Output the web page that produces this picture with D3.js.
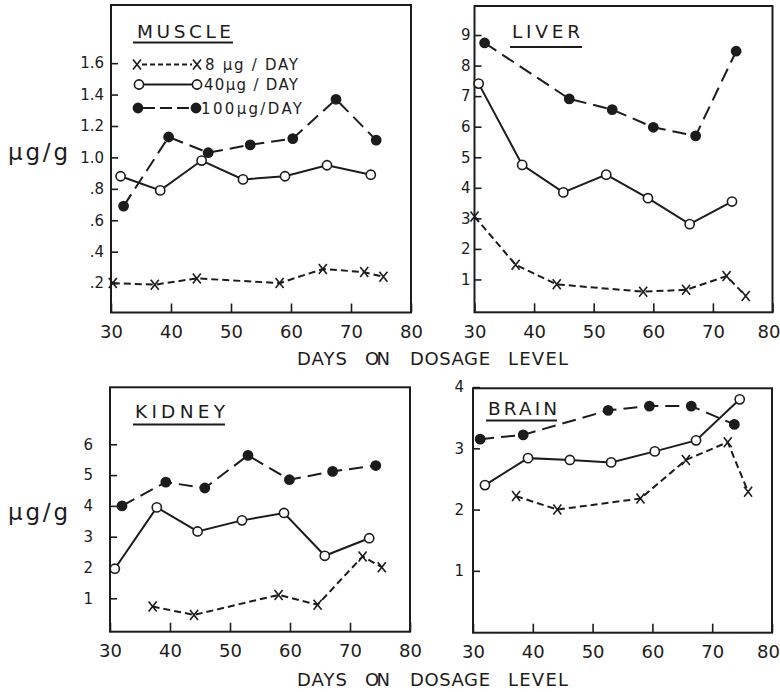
<!DOCTYPE html>
<html><head><meta charset="utf-8">
<script src="https://cdn.jsdelivr.net/npm/d3@7"></script>
<style>
body{margin:0;background:#fff}
svg{display:block}
text{font-family:"DejaVu Sans",sans-serif;fill:#1c1c1c}
</style>
</head><body><svg id="c" width="780" height="692"></svg>
<script>
// ---------- data ----------
const xTickValues = [30, 40, 50, 60, 70, 80];
const seriesNames = ["8 µg / DAY", "40µg / DAY", "100µg/DAY"];

const muscleTicks = [0.2, 0.4, 0.6, 0.8, 1.0, 1.2, 1.4, 1.6];
const muscleTickLabels = [".2", ".4", ".6", ".8", "1.0", "1.2", "1.4", "1.6"];
const liverTicks = [1, 2, 3, 4, 5, 6, 7, 8, 9];
const kidneyTicks = [1, 2, 3, 4, 5, 6];
const brainTicks = [1, 2, 3, 4];

const muscle8Days = [30.3, 37.3, 44.3, 58.1, 65.3, 72.2, 75.4];
const muscle8 = [0.20, 0.19, 0.23, 0.20, 0.29, 0.27, 0.24];
const muscle40Days = [31.6, 38.2, 45.1, 52.0, 59.0, 66.0, 73.3];
const muscle40 = [0.88, 0.79, 0.98, 0.86, 0.88, 0.95, 0.89];
const muscle100Days = [32.1, 39.6, 46.2, 53.2, 60.3, 67.5, 74.2];
const muscle100 = [0.69, 1.13, 1.03, 1.08, 1.12, 1.37, 1.11];

const liver8Days = [30.0, 36.9, 43.8, 58.3, 65.5, 72.3, 75.5];
const liver8 = [3.06, 1.48, 0.84, 0.60, 0.66, 1.11, 0.46];
const liver40Days = [30.7, 38.0, 44.9, 52.1, 59.1, 66.1, 73.2];
const liver40 = [7.41, 4.75, 3.85, 4.43, 3.66, 2.81, 3.55];
const liver100Days = [31.7, 45.9, 53.1, 60.0, 67.1, 73.9];
const liver100 = [8.74, 6.91, 6.56, 5.98, 5.70, 8.47];

const kidney8Days = [37.1, 44.0, 58.1, 64.6, 72.1, 75.3];
const kidney8 = [0.73, 0.46, 1.11, 0.79, 2.36, 2.01];
const kidney40Days = [30.8, 37.8, 44.6, 52.0, 59.0, 65.8, 73.2];
const kidney40 = [1.96, 3.95, 3.17, 3.53, 3.77, 2.38, 2.95];
const kidney100Days = [32.0, 39.3, 45.8, 53.0, 59.9, 67.1, 74.3];
const kidney100 = [4.00, 4.77, 4.58, 5.64, 4.85, 5.12, 5.31];

const brain8Days = [37.2, 44.1, 58.0, 65.6, 72.6, 76.0];
const brain8 = [2.22, 2.00, 2.18, 2.81, 3.10, 2.29];
const brain40Days = [32.0, 39.2, 46.2, 53.1, 60.4, 67.3, 74.6];
const brain40 = [2.40, 2.84, 2.81, 2.77, 2.95, 3.13, 3.80];
const brain100Days = [31.2, 38.4, 52.6, 59.5, 66.5, 73.7];
const brain100 = [3.15, 3.22, 3.62, 3.69, 3.69, 3.39];

// ---------- drawing ----------
const svg = d3.select("#c");
const INK = "#1c1c1c";
const zip = (a, b) => a.map((d, i) => [d, b[i]]);

const panels = [
  {title: "MUSCLE", xr: [111, 411], yr: [312.5, 5], yd: [0.013, 1.97], ticks: muscleTicks, labels: muscleTickLabels, pad: 7,
   tPos: [137, 38, 94], uPos: [133, 233, 42.5],
   series: [zip(muscle8Days, muscle8), zip(muscle40Days, muscle40), zip(muscle100Days, muscle100)]},
  {title: "LIVER", xr: [474.5, 772.5], yr: [312.3, 6], yd: [-0.075, 9.95], ticks: liverTicks, labels: liverTicks.map(String), pad: 4,
   tPos: [512, 38, 68], uPos: [510, 582, 47],
   series: [zip(liver8Days, liver8), zip(liver40Days, liver40), zip(liver100Days, liver100)]},
  {title: "KIDNEY", xr: [110, 410], yr: [631.7, 387.3], yd: [-0.085, 7.85], ticks: kidneyTicks, labels: kidneyTicks.map(String), pad: 17,
   tPos: [135, 418, 90], uPos: [133, 225, 424.5],
   series: [zip(kidney8Days, kidney8), zip(kidney40Days, kidney40), zip(kidney100Days, kidney100)]},
  {title: "BRAIN", xr: [473, 772], yr: [632.7, 388.3], yd: [-0.01, 3.98], ticks: brainTicks, labels: brainTicks.map(String), pad: 9,
   tPos: [488, 415, 69], uPos: [486, 557, 420.5],
   series: [zip(brain8Days, brain8), zip(brain40Days, brain40), zip(brain100Days, brain100)]}
];

const dashes = ["7,4", null, "14,7"];

function xMark(g, cx, cy) {
  g.append("path").attr("d", `M${cx-4},${cy-5}L${cx+4},${cy+5}M${cx+4},${cy-5}L${cx-4},${cy+5}`)
    .attr("stroke", INK).attr("stroke-width", 1.6).attr("fill", "none");
}
function marker(g, k, cx, cy) {
  if (k === 0) xMark(g, cx, cy);
  else g.append("circle").attr("cx", cx).attr("cy", cy).attr("r", 4.6)
    .attr("fill", k === 1 ? "#fff" : INK).attr("stroke", INK).attr("stroke-width", 1.6);
}

panels.forEach(p => {
  const x = d3.scaleLinear().domain([30, 80]).range(p.xr);
  const y = d3.scaleLinear().domain(p.yd).range(p.yr);
  const g = svg.append("g");

  // axes
  const ax = g.append("g").attr("transform", `translate(0,${p.yr[0]})`)
    .call(d3.axisBottom(x).tickValues(xTickValues).tickSize(-9).tickPadding(13));
  ax.select(".domain").remove();
  ax.selectAll("line").attr("stroke", INK).attr("stroke-width", 1.6);
  ax.selectAll("text").attr("font-size", 18).attr("fill", INK).attr("font-family", "DejaVu Sans")
    .attr("dx", d => (d === 80 && p.xr[1] > 700) ? -4 : 0);

  const ay = g.append("g").attr("transform", `translate(${p.xr[0]},0)`)
    .call(d3.axisLeft(y).tickValues(p.ticks).tickFormat((d, i) => p.labels[i]).tickSize(-7).tickPadding(p.pad));
  ay.select(".domain").remove();
  ay.selectAll("line").attr("stroke", INK).attr("stroke-width", 1.6);
  ay.selectAll("text").attr("font-size", 15).attr("fill", INK).attr("font-family", "DejaVu Sans");

  // frame
  g.append("rect").attr("x", p.xr[0]).attr("y", p.yr[1])
    .attr("width", p.xr[1] - p.xr[0]).attr("height", p.yr[0] - p.yr[1])
    .attr("fill", "none").attr("stroke", INK).attr("stroke-width", 2);

  // title
  g.append("text").attr("x", p.tPos[0]).attr("y", p.tPos[1]).attr("font-size", 18.5)
    .attr("textLength", p.tPos[2]).attr("lengthAdjust", "spacing").text(p.title);
  g.append("line").attr("x1", p.uPos[0]).attr("x2", p.uPos[1]).attr("y1", p.uPos[2]).attr("y2", p.uPos[2])
    .attr("stroke", INK).attr("stroke-width", 1.8);

  // series
  const line = d3.line().x(d => x(d[0])).y(d => y(d[1]));
  p.series.forEach((s, k) => {
    g.append("path").attr("d", line(s)).attr("fill", "none").attr("stroke", INK)
      .attr("stroke-width", 2).attr("stroke-dasharray", dashes[k]);
  });
  p.series.forEach((s, k) => {
    s.forEach(d => marker(g, k, x(d[0]), y(d[1])));
  });
});

// legend (inside muscle panel)
const leg = svg.append("g");
const legRows = [
  {y: 64.5, x1: 137, x2: 197, ty: 70, tx: 205, tl: 93},
  {y: 84.5, x1: 139, x2: 197, ty: 90, tx: 204, tl: 94},
  {y: 108, x1: 138, x2: 196, ty: 113.5, tx: 201, tl: 101}
];
legRows.forEach((r, k) => {
  leg.append("line").attr("x1", r.x1 + 5).attr("x2", r.x2 - 5).attr("y1", r.y).attr("y2", r.y)
    .attr("stroke", INK).attr("stroke-width", 2).attr("stroke-dasharray", k === 0 ? "5,3" : (k === 2 ? "12,5" : null));
  marker(leg, k, r.x1, r.y);
  marker(leg, k, r.x2, r.y);
  leg.append("text").attr("x", r.tx).attr("y", r.ty).attr("font-size", 15)
    .attr("textLength", r.tl).attr("lengthAdjust", "spacing").text(seriesNames[k]);
});

// y-axis unit labels
[160, 520].forEach(yy => {
  svg.append("text").attr("x", 8).attr("y", yy).attr("font-size", 23)
    .attr("textLength", 60).attr("lengthAdjust", "spacing").text("µg/g");
});

// x-axis titles
const xWords = [["DAYS", 297, 50], ["ON", 365, 25], ["DOSAGE", 410, 80], ["LEVEL", 508, 60]];
[365, 686].forEach(yy => {
  xWords.forEach(w => {
    svg.append("text").attr("x", w[1]).attr("y", yy).attr("font-size", 18)
      .attr("textLength", w[2]).attr("lengthAdjust", "spacing").text(w[0]);
  });
});
</script>
</body></html>
